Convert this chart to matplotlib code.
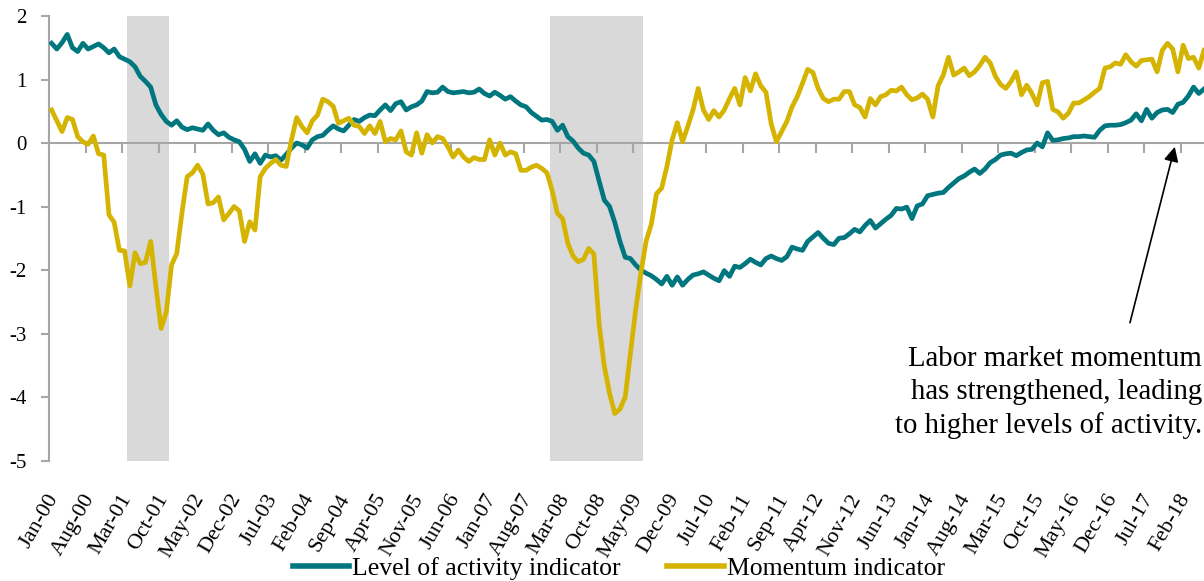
import numpy as np
import pandas as pd
import matplotlib
matplotlib.use("Agg")
import matplotlib.pyplot as plt

plt.rcParams['font.family'] = ['Liberation Serif', 'DejaVu Serif']

# ---------------- data ----------------
months = pd.date_range("2000-01-01", periods=222, freq="MS").strftime("%b-%y").tolist()

level = [
    1.57, 1.48, 1.58, 1.71, 1.50, 1.44, 1.57, 1.48, 1.52, 1.56,
    1.50, 1.42, 1.48, 1.36, 1.32, 1.28, 1.20, 1.05, 0.97, 0.88,
    0.60, 0.45, 0.34, 0.28, 0.35, 0.25, 0.21, 0.24, 0.22, 0.20,
    0.30, 0.20, 0.13, 0.16, 0.09, 0.05, 0.02, -0.10, -0.29, -0.17,
    -0.32, -0.19, -0.22, -0.20, -0.27, -0.18, -0.08, 0.00, -0.03, -0.08,
    0.05, 0.10, 0.12, 0.20, 0.27, 0.22, 0.19, 0.28, 0.37, 0.34,
    0.40, 0.44, 0.43, 0.52, 0.60, 0.51, 0.62, 0.65, 0.52, 0.57,
    0.60, 0.66, 0.81, 0.79, 0.80, 0.88, 0.81, 0.79, 0.80, 0.81,
    0.79, 0.80, 0.85, 0.78, 0.74, 0.80, 0.75, 0.69, 0.73, 0.66,
    0.60, 0.57, 0.48, 0.42, 0.36, 0.37, 0.34, 0.20, 0.28, 0.10,
    0.03, -0.08, -0.16, -0.19, -0.29, -0.60, -0.90, -1.00, -1.25, -1.55,
    -1.80, -1.82, -1.92, -2.00, -2.05, -2.09, -2.15, -2.22, -2.10, -2.24,
    -2.11, -2.24, -2.15, -2.08, -2.06, -2.03, -2.08, -2.13, -2.17, -2.01,
    -2.10, -1.94, -1.96, -1.90, -1.83, -1.88, -1.92, -1.82, -1.78, -1.82,
    -1.85, -1.79, -1.64, -1.67, -1.69, -1.55, -1.48, -1.41, -1.50, -1.58,
    -1.60, -1.50, -1.49, -1.43, -1.36, -1.40, -1.30, -1.22, -1.34, -1.27,
    -1.20, -1.14, -1.03, -1.04, -1.01, -1.19, -0.99, -0.96, -0.83, -0.81,
    -0.79, -0.78, -0.70, -0.63, -0.56, -0.52, -0.46, -0.41, -0.48, -0.41,
    -0.31, -0.26, -0.19, -0.17, -0.16, -0.20, -0.15, -0.11, -0.10, 0.00,
    -0.06, 0.16, 0.04, 0.05, 0.07, 0.08, 0.10, 0.10, 0.11, 0.10,
    0.09, 0.20, 0.27, 0.28, 0.28, 0.29, 0.32, 0.36, 0.46, 0.35,
    0.53, 0.39, 0.48, 0.52, 0.53, 0.48, 0.61, 0.64, 0.74, 0.88,
    0.78, 0.85,
]

momentum = [
    0.52, 0.35, 0.18, 0.40, 0.37, 0.10, 0.02, -0.02, 0.11, -0.17,
    -0.19, -1.13, -1.25, -1.69, -1.70, -2.25, -1.73, -1.90, -1.88, -1.55,
    -2.26, -2.92, -2.66, -1.92, -1.74, -1.10, -0.53, -0.47, -0.35, -0.49,
    -0.96, -0.94, -0.85, -1.21, -1.11, -1.00, -1.07, -1.55, -1.24, -1.37,
    -0.53, -0.40, -0.32, -0.26, -0.35, -0.37, 0.05, 0.40, 0.26, 0.16,
    0.35, 0.44, 0.69, 0.65, 0.58, 0.31, 0.35, 0.39, 0.28, 0.26,
    0.15, 0.27, 0.15, 0.34, 0.02, 0.07, 0.05, 0.19, -0.14, -0.19,
    0.16, -0.16, 0.13, 0.00, 0.10, 0.07, -0.06, -0.22, -0.11, -0.22,
    -0.29, -0.23, -0.26, -0.26, 0.05, -0.19, 0.00, -0.19, -0.14, -0.17,
    -0.43, -0.43, -0.38, -0.35, -0.40, -0.47, -0.75, -1.11, -1.19, -1.58,
    -1.78, -1.87, -1.83, -1.66, -1.75, -2.85, -3.52, -3.94, -4.26, -4.19,
    -4.00, -3.31, -2.63, -2.05, -1.55, -1.28, -0.80, -0.71, -0.37, 0.05,
    0.32, 0.02, 0.26, 0.52, 0.86, 0.52, 0.37, 0.51, 0.41, 0.52,
    0.70, 0.86, 0.60, 1.03, 0.82, 1.09, 0.90, 0.80, 0.30, 0.02,
    0.18, 0.34, 0.57, 0.73, 0.94, 1.16, 1.11, 0.86, 0.70, 0.65,
    0.69, 0.69, 0.81, 0.81, 0.60, 0.56, 0.41, 0.70, 0.60, 0.73,
    0.76, 0.83, 0.82, 0.88, 0.76, 0.68, 0.71, 0.77, 0.69, 0.41,
    0.90, 1.07, 1.35, 1.07, 1.12, 1.18, 1.06, 1.12, 1.22, 1.35,
    1.26, 1.05, 0.92, 0.86, 0.97, 1.12, 0.76, 0.91, 0.78, 0.60,
    0.95, 0.97, 0.53, 0.49, 0.39, 0.47, 0.63, 0.63, 0.68, 0.73,
    0.80, 0.86, 1.18, 1.20, 1.26, 1.24, 1.39, 1.28, 1.21, 1.30,
    1.31, 1.32, 1.12, 1.46, 1.57, 1.48, 1.12, 1.54, 1.33, 1.35,
    1.18, 1.46,
]

# recession months (shaded)
recession = ["Apr-01", "May-01", "Jun-01", "Jul-01", "Aug-01", "Sep-01", "Oct-01", "Nov-01",
             "Jan-08", "Feb-08", "Mar-08", "Apr-08", "May-08", "Jun-08", "Jul-08", "Aug-08",
             "Sep-08", "Oct-08", "Nov-08", "Dec-08", "Jan-09", "Feb-09", "Mar-09", "Apr-09",
             "May-09", "Jun-09"]

label_step = 7
tick_labels = months[::label_step]
annotation = "Labor market momentum\nhas strengthened, leading\nto higher levels of activity."

TEAL = "#00767F"
GOLD = "#D4B400"
GREY = "#A6A6A6"

# ---------------- figure ----------------
W, H = 1204, 581
fig = plt.figure(figsize=(W / 100, H / 100), dpi=100)
ax = fig.add_axes([49 / W, (H - 460.5) / H, (W - 49) / W, (460.5 - 16) / H])

x = np.arange(len(months))
rec_idx = [months.index(m) for m in recession]
ax.bar(rec_idx, [7] * len(rec_idx), bottom=-5, width=1.0, color="#D9D9D9", zorder=0)

ax.plot(x, level, color=TEAL, lw=3.4, solid_joinstyle="round", zorder=3,
        label="Level of activity indicator")
ax.plot(x, momentum, color=GOLD, lw=3.4, solid_joinstyle="round", zorder=4,
        label="Momentum indicator")

ax.set_xlim(-0.5, 221.0)
ax.set_ylim(-5, 2)

for s in ["top", "right"]:
    ax.spines[s].set_visible(False)
ax.spines["left"].set_color(GREY)
ax.spines["left"].set_linewidth(1.5)
ax.spines["bottom"].set_position(("data", 0))
ax.spines["bottom"].set_color(GREY)
ax.spines["bottom"].set_linewidth(1.5)

ax.set_yticks(range(-5, 3))
ax.set_yticklabels([str(v) for v in range(-5, 3)], fontsize=15)
ax.tick_params(axis="y", direction="out", length=6, width=1.5, color=GREY, pad=10)

ax.set_xticks(np.arange(-0.5, len(months), label_step))
ax.tick_params(axis="x", direction="out", length=7, width=1.5, color=GREY,
               labelbottom=False)

px_per_unit = 63.5
for i, lab in zip(range(0, len(months), label_step), tick_labels):
    ax.text(i + 0.5, -5 - 35 / px_per_unit, lab, rotation=60, rotation_mode="anchor",
            ha="right", va="center", fontsize=16, clip_on=False)

# annotation
ax.annotate("", xy=(215.4, -0.06), xytext=(206.8, -2.83),
            arrowprops=dict(arrowstyle="-|>", color="black", lw=1.2,
                            mutation_scale=22, shrinkA=0, shrinkB=0))
ax.text(220.6, -3.93, annotation, ha="right", va="center", multialignment="right",
        fontsize=20.7, linespacing=1.33)

leg = fig.legend(loc="center", bbox_to_anchor=(0.514, 0.022), ncol=2, frameon=False,
                 fontsize=18.5, handlelength=2.2, handletextpad=0.12, columnspacing=1.8,
                 borderaxespad=0)
for line in leg.get_lines():
    line.set_linewidth(4)

fig.savefig("out.png", dpi=100)
